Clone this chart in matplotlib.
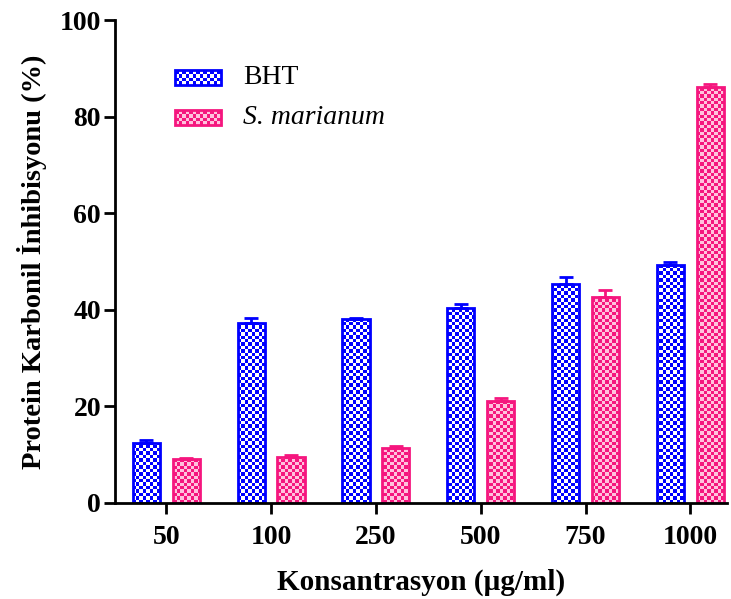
import numpy as np
import matplotlib
matplotlib.use("Agg")
import matplotlib.pyplot as plt
from matplotlib.colors import ListedColormap
from matplotlib.patches import Rectangle

categories = ["50", "100", "250", "500", "750", "1000"]
bht = [12.5, 37.3, 38.1, 40.4, 45.4, 49.2]
bht_err = [0.5, 0.9, 0.3, 0.9, 1.3, 0.6]
sm = [9.1, 9.5, 11.3, 21.1, 42.7, 86.2]
sm_err = [0.3, 0.4, 0.4, 0.7, 1.4, 0.5]
yticks = [0, 20, 40, 60, 80, 100]

BLUE = "#0000FF"
PINK = "#F5167E"
PINK_LIGHT = "#FFC2DD"

plt.rcParams['font.family'] = ['Liberation Serif', 'DejaVu Serif']

fig = plt.figure(figsize=(7.31, 5.99), dpi=100)
ax = fig.add_axes([115/731, 1-503/599, 612/731, 483/599])
xlim = (-0.49, 5.35)
ylim = (0, 100)
ax.set_xlim(*xlim)
ax.set_ylim(*ylim)

x = np.arange(len(categories))
w = 0.26
off = 0.19

nx, ny = 180, 142
checker = np.indices((ny, nx)).sum(axis=0) % 2


def fill_checker(patch, c1, c2):
    cm = ListedColormap([c2, c1])
    im = ax.imshow(checker, cmap=cm, extent=(*xlim, *ylim),
                   aspect='auto', interpolation='nearest', zorder=1,
                   origin='lower')
    im.set_clip_path(patch)
    return im


bars1 = ax.bar(x - off, bht, w, facecolor='none', edgecolor=BLUE, linewidth=2, zorder=2)
bars2 = ax.bar(x + off, sm, w, facecolor='none', edgecolor=PINK, linewidth=2, zorder=2)
for b in bars1:
    fill_checker(b, BLUE, "white")
for b in bars2:
    fill_checker(b, PINK, PINK_LIGHT)
ax.set_xlim(*xlim)
ax.set_ylim(*ylim)

ax.errorbar(x - off, bht, yerr=[np.zeros(len(bht)), bht_err], fmt='none',
            ecolor=BLUE, elinewidth=2, capsize=5, capthick=2, zorder=3)
ax.errorbar(x + off, sm, yerr=[np.zeros(len(sm)), sm_err], fmt='none',
            ecolor=PINK, elinewidth=2, capsize=5, capthick=2, zorder=3)

for s in ['top', 'right']:
    ax.spines[s].set_visible(False)
for s in ['left', 'bottom']:
    ax.spines[s].set_linewidth(2)

ax.set_xticks(x)
ax.set_xticklabels(categories)
ax.set_yticks(yticks)
ax.tick_params(axis='both', direction='out', length=8, width=2, labelsize=20, pad=8)
for lab in ax.get_xticklabels() + ax.get_yticklabels():
    lab.set_fontweight('bold')
ax.tick_params(axis='y', pad=2)

ax.set_ylabel("Protein Karbonil İnhibisyonu (%)", fontsize=20.5, fontweight='bold', labelpad=9)
ax.set_xlabel("Konsantrasyon (\u00b5g/ml)", fontsize=21, fontweight='bold', labelpad=13)

# manual legend
leg_items = [("BHT", BLUE, "white", 'normal', 0.865), ("S. marianum", PINK, PINK_LIGHT, 'italic', 0.783)]
for label, c1, c2, style, yb in leg_items:
    r = Rectangle((0.098, yb), 0.075, 0.031, transform=ax.transAxes, facecolor='none',
                  edgecolor=c1, linewidth=2, zorder=2, clip_on=False)
    ax.add_patch(r)
    cm = ListedColormap([c2, c1])
    im = ax.imshow(checker[:4, :13], cmap=cm, extent=(0.098, 0.173, yb, yb + 0.031),
                   transform=ax.transAxes, aspect='auto', interpolation='nearest',
                   zorder=1, origin='lower')
    im.set_clip_path(r)
    ax.text(0.209, yb + 0.0155, label, transform=ax.transAxes, fontsize=20,
            fontstyle=style, va='center', ha='left')
ax.set_xlim(*xlim)
ax.set_ylim(*ylim)

fig.savefig("out.png", dpi=100)
